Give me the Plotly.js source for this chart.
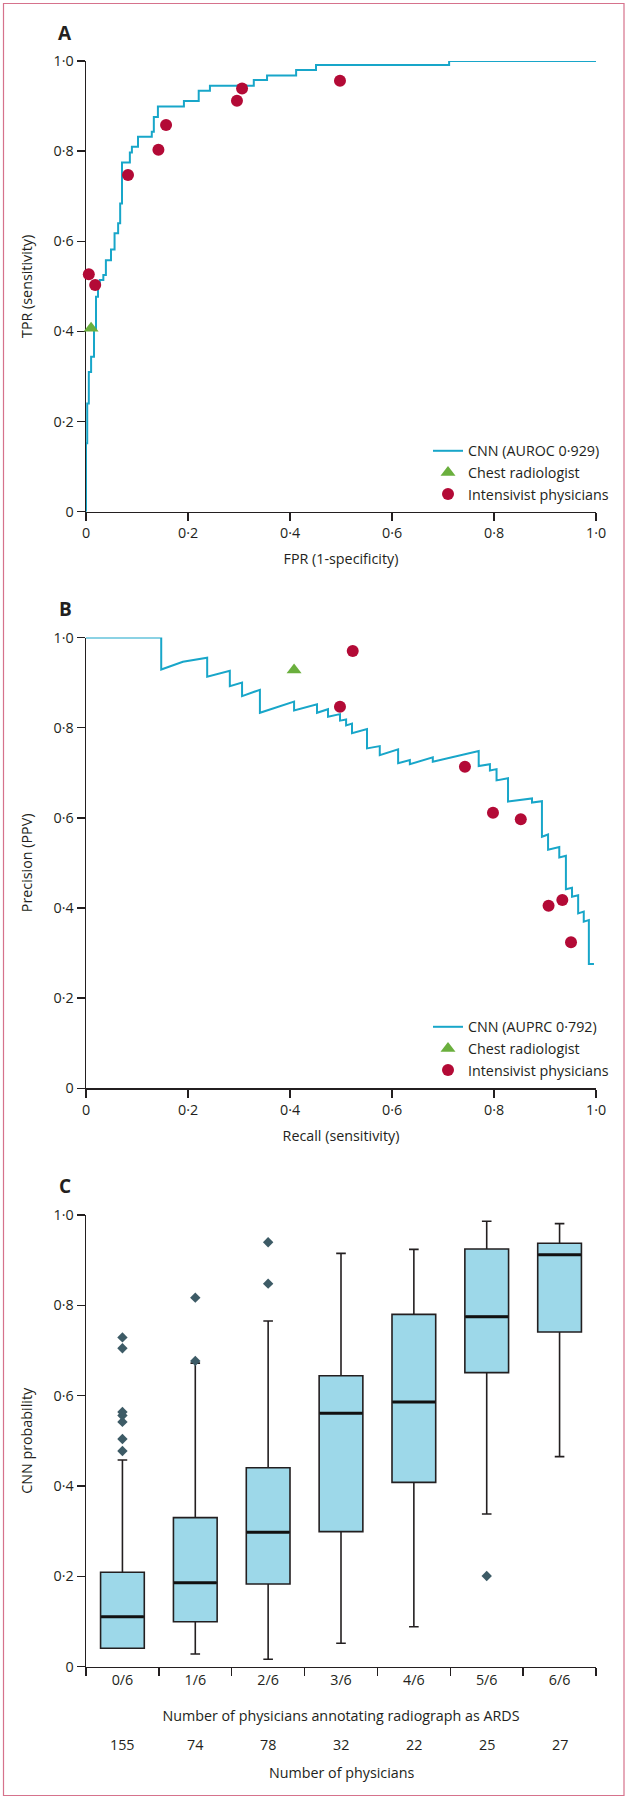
<!DOCTYPE html>
<html>
<head>
<meta charset="utf-8">
<script src="https://cdn.plot.ly/plotly-3.0.1.min.js"></script>
<style>html,body{margin:0;padding:0;background:#fff;}#chart{width:628px;height:1800px;}</style>
</head>
<body>
<div id="chart"></div>
<script>
// ---------- Panel A: ROC ----------
const rocFpr = [0, 0, 0.0024, 0.0055, 0.010, 0.0157, 0.0196, 0.0235, 0.027, 0.034, 0.039, 0.049, 0.056, 0.063, 0.067, 0.0706, 0.086, 0.090, 0.102, 0.129, 0.133, 0.141, 0.192, 0.221, 0.243, 0.329, 0.355, 0.412, 0.451, 0.712, 1.0];
const rocTpr = [0, 0.152, 0.24, 0.31, 0.344, 0.403, 0.477, 0.503, 0.514, 0.525, 0.558, 0.582, 0.618, 0.64, 0.684, 0.775, 0.797, 0.81, 0.832, 0.843, 0.876, 0.899, 0.911, 0.934, 0.945, 0.958, 0.968, 0.980, 0.991, 1.0, 1.0];
const radFpr = [0.010];
const radTpr = [0.407];
const intFpr = [0.0055, 0.018, 0.0824, 0.142, 0.157, 0.296, 0.306, 0.498];
const intTpr = [0.527, 0.503, 0.747, 0.803, 0.858, 0.912, 0.939, 0.956];

// ---------- Panel B: precision-recall ----------
const prRecall = [0, 0.1475, 0.1475, 0.19, 0.2376, 0.2376, 0.282, 0.282, 0.306, 0.306, 0.341, 0.341, 0.408, 0.408, 0.453, 0.453, 0.4745, 0.4745, 0.498, 0.498, 0.51, 0.51, 0.5216, 0.5216, 0.551, 0.551, 0.576, 0.576, 0.612, 0.612, 0.635, 0.635, 0.680, 0.680, 0.770, 0.770, 0.792, 0.792, 0.805, 0.805, 0.8275, 0.8275, 0.8745, 0.8745, 0.894, 0.894, 0.906, 0.906, 0.928, 0.928, 0.941, 0.941, 0.953, 0.953, 0.965, 0.965, 0.976, 0.976, 0.986, 0.986, 0.996];
const prPrecision = [1.0, 1.0, 0.929, 0.946, 0.955, 0.913, 0.926, 0.892, 0.900, 0.870, 0.884, 0.833, 0.858, 0.838, 0.852, 0.833, 0.841, 0.824, 0.830, 0.8155, 0.818, 0.805, 0.809, 0.7875, 0.797, 0.754, 0.759, 0.739, 0.752, 0.721, 0.728, 0.719, 0.734, 0.7245, 0.748, 0.715, 0.719, 0.705, 0.708, 0.683, 0.688, 0.636, 0.643, 0.634, 0.637, 0.558, 0.563, 0.529, 0.535, 0.512, 0.516, 0.4414, 0.445, 0.425, 0.428, 0.388, 0.392, 0.3696, 0.373, 0.2757, 0.2757];
const radRecall = [0.408];
const radPrecision = [0.928];
const intRecall = [0.498, 0.523, 0.743, 0.798, 0.8525, 0.907, 0.934, 0.951];
const intPrecision = [0.8466, 0.970, 0.7135, 0.6115, 0.5967, 0.405, 0.4177, 0.3239];

// ---------- Panel C: box plots ----------
const groups = ['0/6', '1/6', '2/6', '3/6', '4/6', '5/6', '6/6'];
const counts = [155, 74, 78, 32, 22, 25, 27];
const q1 = [0.0407, 0.0996, 0.183, 0.299, 0.408, 0.651, 0.741];
const medians = [0.1107, 0.186, 0.2975, 0.561, 0.586, 0.775, 0.912];
const q3 = [0.209, 0.330, 0.4406, 0.644, 0.780, 0.9247, 0.9373];
const lowerFence = [0.0407, 0.028, 0.0164, 0.0518, 0.0886, 0.338, 0.465];
const upperFence = [0.4576, 0.672, 0.7653, 0.915, 0.924, 0.986, 0.981];
const outlierGroup = ['0/6', '0/6', '0/6', '0/6', '0/6', '0/6', '0/6', '1/6', '1/6', '2/6', '2/6', '5/6'];
const outlierValue = [0.4775, 0.504, 0.542, 0.556, 0.564, 0.705, 0.729, 0.677, 0.817, 0.848, 0.9396, 0.2008];

const probTicks = [0, 0.2, 0.4, 0.6, 0.8, 1.0];
const probTickText = ['0', '0·2', '0·4', '0·6', '0·8', '1·0'];

const INK = '#231f20';
const CYAN = '#18a6c9';
const RED = '#b30a36';
const GREEN = '#6aaf3d';
const FONT = 'Open Sans, sans-serif';
const FS = 14.3;

const traces = [
  {x: rocFpr, y: rocTpr, type: 'scatter', mode: 'lines', line: {color: CYAN, width: 2, shape: 'hv'},
   name: 'CNN (AUROC 0·929)', xaxis: 'x', yaxis: 'y', legend: 'legend', cliponaxis: false},
  {x: radFpr, y: radTpr, type: 'scatter', mode: 'markers', marker: {symbol: 'triangle-up', size: 13, color: GREEN},
   name: 'Chest radiologist', xaxis: 'x', yaxis: 'y', legend: 'legend', cliponaxis: false},
  {x: intFpr, y: intTpr, type: 'scatter', mode: 'markers', marker: {symbol: 'circle', size: 12, color: RED},
   name: 'Intensivist physicians', xaxis: 'x', yaxis: 'y', legend: 'legend', cliponaxis: false},

  {x: prRecall, y: prPrecision, type: 'scatter', mode: 'lines', line: {color: CYAN, width: 2},
   name: 'CNN (AUPRC 0·792)', xaxis: 'x2', yaxis: 'y2', legend: 'legend2', cliponaxis: false},
  {x: radRecall, y: radPrecision, type: 'scatter', mode: 'markers', marker: {symbol: 'triangle-up', size: 13, color: GREEN},
   name: 'Chest radiologist', xaxis: 'x2', yaxis: 'y2', legend: 'legend2', cliponaxis: false},
  {x: intRecall, y: intPrecision, type: 'scatter', mode: 'markers', marker: {symbol: 'circle', size: 12, color: RED},
   name: 'Intensivist physicians', xaxis: 'x2', yaxis: 'y2', legend: 'legend2', cliponaxis: false},

  {type: 'box', x: groups, q1: q1, median: medians, q3: q3, lowerfence: lowerFence, upperfence: upperFence,
   fillcolor: '#9dd8e9', line: {color: INK, width: 1.6}, whiskerwidth: 0.22, width: 0.6, boxpoints: false,
   xaxis: 'x3', yaxis: 'y3', showlegend: false, hoverinfo: 'skip'},
  {type: 'scatter', mode: 'markers', x: groups, y: medians, marker: {symbol: 'line-ew', size: 30.5, line: {width: 3, color: '#111'}},
   xaxis: 'x3', yaxis: 'y3', showlegend: false, cliponaxis: false},
  {type: 'scatter', mode: 'markers', x: outlierGroup, y: outlierValue, marker: {symbol: 'diamond', size: 8, color: '#3d5b66'},
   xaxis: 'x3', yaxis: 'y3', showlegend: false, cliponaxis: false}
];

const xDom = [86 / 628, 596 / 628];
function yDom(top, bottom) { return [1 - bottom / 1800, 1 - top / 1800]; }

const baseAxis = {
  showgrid: false, zeroline: false, showline: true, linecolor: INK, linewidth: 1.5,
  ticks: 'outside', ticklen: 8, tickwidth: 1.5, tickcolor: INK,
  tickfont: {family: FONT, size: FS, color: INK}, layer: 'below traces', fixedrange: true
};
function ax(extra) { return Object.assign({}, baseAxis, extra); }
const titleFont = {family: FONT, size: FS, color: INK};

const layout = {
  width: 628, height: 1800,
  margin: {l: 0, r: 0, t: 0, b: 0},
  paper_bgcolor: '#fff', plot_bgcolor: 'rgba(0,0,0,0)',
  font: {family: FONT, size: FS, color: INK},
  xaxis: ax({domain: xDom, range: [0, 1], tickvals: probTicks, ticktext: probTickText, anchor: 'y',
    title: {text: 'FPR (1-specificity)', font: titleFont, standoff: 12}}),
  yaxis: ax({domain: yDom(61, 511.7), range: [0, 1], tickvals: probTicks, ticktext: probTickText, anchor: 'x',
    title: {text: 'TPR (sensitivity)', font: titleFont, standoff: 17}}),
  xaxis2: ax({domain: xDom, range: [0, 1], tickvals: probTicks, ticktext: probTickText, anchor: 'y2',
    title: {text: 'Recall (sensitivity)', font: titleFont, standoff: 13}}),
  yaxis2: ax({domain: yDom(637.5, 1088.3), range: [0, 1], tickvals: probTicks, ticktext: probTickText, anchor: 'x2',
    title: {text: 'Precision (PPV)', font: titleFont, standoff: 17}}),
  xaxis3: ax({domain: xDom, type: 'category', range: [-0.5, 6.5], tickson: 'boundaries', anchor: 'y3',
    title: {text: 'Number of physicians annotating radiograph as ARDS', font: titleFont, standoff: 22}}),
  yaxis3: ax({domain: yDom(1215, 1666.7), range: [0, 1], tickvals: probTicks, ticktext: probTickText, anchor: 'x3',
    title: {text: 'CNN probability', font: titleFont, standoff: 17}}),
  legend: {x: 428 / 628, xanchor: 'left', y: 1 - 435 / 1800, yanchor: 'top', bgcolor: 'rgba(0,0,0,0)',
    font: {family: FONT, size: FS, color: INK}, traceorder: 'normal'},
  legend2: {x: 428 / 628, xanchor: 'left', y: 1 - 1011 / 1800, yanchor: 'top', bgcolor: 'rgba(0,0,0,0)',
    font: {family: FONT, size: FS, color: INK}, traceorder: 'normal'},
  annotations: [
    {text: '<b>A</b>', x: 65 / 628, y: 1 - 33 / 1800, xref: 'paper', yref: 'paper', showarrow: false,
     font: {family: FONT, size: 19, color: INK}, xanchor: 'center', yanchor: 'middle'},
    {text: '<b>B</b>', x: 65 / 628, y: 1 - 609 / 1800, xref: 'paper', yref: 'paper', showarrow: false,
     font: {family: FONT, size: 19, color: INK}, xanchor: 'center', yanchor: 'middle'},
    {text: '<b>C</b>', x: 65 / 628, y: 1 - 1186 / 1800, xref: 'paper', yref: 'paper', showarrow: false,
     font: {family: FONT, size: 19, color: INK}, xanchor: 'center', yanchor: 'middle'},
    {text: 'Number of physicians', x: 0.5 * (xDom[0] + xDom[1]), y: 1 - 1772.7 / 1800, xref: 'paper', yref: 'paper',
     showarrow: false, font: titleFont, xanchor: 'center', yanchor: 'middle'}
  ].concat(groups.map((g, i) => ({
    text: String(counts[i]), x: g, xref: 'x3', y: 1 - 1744 / 1800, yref: 'paper', showarrow: false,
    font: titleFont, xanchor: 'center', yanchor: 'middle'
  }))),
  shapes: [
    {type: 'rect', xref: 'paper', yref: 'paper', x0: 3.5 / 628, x1: 624 / 628, y0: 1 - 1795.5 / 1800, y1: 1 - 3.5 / 1800,
     line: {color: '#d6728c', width: 1.2}, fillcolor: 'rgba(0,0,0,0)'}
  ]
};

Plotly.newPlot('chart', traces, layout, {staticPlot: true, displayModeBar: false});
</script>
</body>
</html>
